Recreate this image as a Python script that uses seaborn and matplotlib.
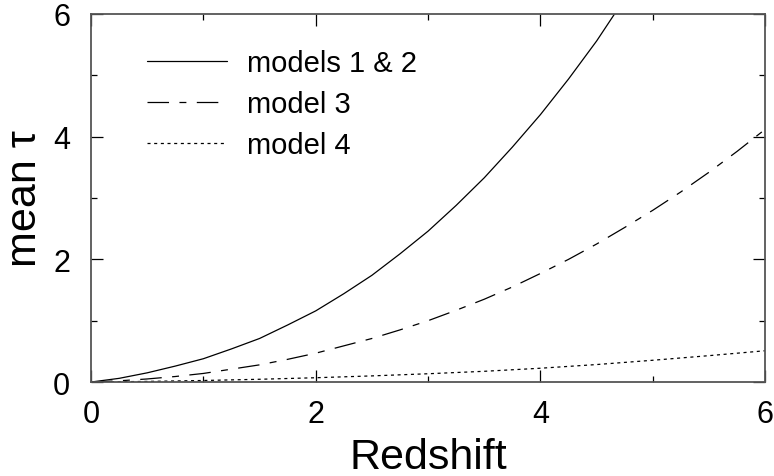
import matplotlib
matplotlib.use("Agg")
import matplotlib.pyplot as plt
import seaborn as sns
import pandas as pd

# Mean optical depth versus redshift for the four models
z_12 = [0.0, 0.25, 0.5, 0.75, 1.0, 1.25, 1.5, 1.75, 2.0, 2.25, 2.5, 2.75,
        3.0, 3.25, 3.5, 3.75, 4.0, 4.25, 4.5, 4.75]
tau_12 = [0.0, 0.06, 0.15, 0.26, 0.38, 0.54, 0.71, 0.93, 1.16, 1.44, 1.74, 2.09,
          2.46, 2.88, 3.33, 3.83, 4.36, 4.94, 5.56, 6.25]

z_3 = [0.0, 0.25, 0.5, 0.75, 1.0, 1.25, 1.5, 1.75, 2.0, 2.25, 2.5, 2.75, 3.0,
       3.25, 3.5, 3.75, 4.0, 4.25, 4.5, 4.75, 5.0, 5.25, 5.5, 5.75, 6.0]
tau_3 = [0.0, 0.02, 0.05, 0.09, 0.14, 0.21, 0.28, 0.37, 0.47, 0.59, 0.71, 0.85,
         1.00, 1.17, 1.35, 1.55, 1.77, 2.00, 2.25, 2.52, 2.80, 3.10, 3.42, 3.76, 4.12]

z_4 = [0.0, 0.5, 1.0, 1.5, 2.0, 2.5, 3.0, 3.5, 4.0, 4.5, 5.0, 5.5, 6.0]
tau_4 = [0.0, 0.01, 0.025, 0.045, 0.07, 0.10, 0.135, 0.175, 0.225, 0.285, 0.355, 0.43, 0.51]

labels = ["models 1 & 2", "model 3", "model 4"]
x_ticks = [0, 2, 4, 6]
y_ticks = [0, 2, 4, 6]

sns.set_style("ticks")
plt.rcParams["font.family"] = ["Liberation Sans", "DejaVu Sans"]
plt.rcParams["lines.scale_dashes"] = False
plt.rcParams["text.color"] = "black"
plt.rcParams["axes.labelcolor"] = "black"
plt.rcParams["xtick.color"] = "black"
plt.rcParams["ytick.color"] = "black"

fig = plt.figure(figsize=(7.74, 4.77), dpi=100)
ax = fig.add_axes([0.1176, 0.197, 0.871, 0.7716])

styles = ["-", (0, (15.5, 7.5, 5, 7.5)), (0, (2.2, 2.6))]
series = [(z_12, tau_12), (z_3, tau_3), (z_4, tau_4)]
for (zs, ts), lab, ls in zip(series, labels, styles):
    df = pd.DataFrame({"Redshift": zs, "tau": ts})
    sns.lineplot(data=df, x="Redshift", y="tau", ax=ax, color="black",
                 linewidth=0.9, linestyle=ls, label=lab)

ax.set_xlim(0, 6)
ax.set_ylim(0, 6)
ax.set_xticks(x_ticks)
ax.set_yticks(y_ticks)
ax.set_xticks([1, 3, 5], minor=True)
ax.set_yticks([1, 3, 5], minor=True)
ax.tick_params(which="both", direction="in", top=True, right=True,
               color="black", width=0.9)
ax.tick_params(which="major", length=8.5, labelsize=22)
ax.tick_params(axis="x", which="major", pad=12)
ax.tick_params(axis="y", which="major", pad=15)
ax.tick_params(which="minor", length=4)
for sp in ax.spines.values():
    sp.set_color("#555555")
    sp.set_linewidth(1.3)

ax.set_xlabel("Redshift", fontsize=31, labelpad=6)
ax.set_ylabel("mean τ", fontsize=31, labelpad=6)

ax.legend(loc="upper left", bbox_to_anchor=(0.083, 0.905), frameon=False,
          fontsize=21, handlelength=2.75, handletextpad=0.68,
          labelspacing=0.45, borderpad=0, borderaxespad=0)

fig.savefig("out.png", dpi=100)
